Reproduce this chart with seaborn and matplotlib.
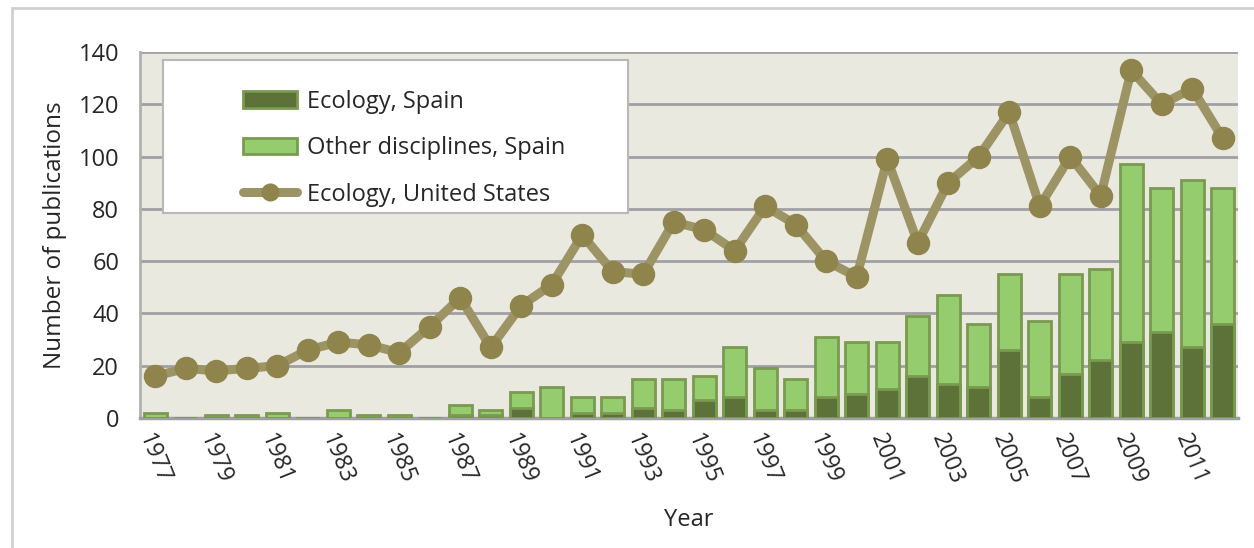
import numpy as np
import pandas as pd
import matplotlib
matplotlib.use("Agg")
import matplotlib.pyplot as plt
import seaborn as sns
from matplotlib.patches import Patch, Rectangle
from matplotlib.lines import Line2D
from matplotlib.ticker import FixedLocator

years = list(range(1977, 2013))
spain_total = [2, 0, 1, 1, 2, 0, 3, 1, 1, 0, 5, 3, 10, 12, 8, 8, 15, 15, 16, 27,
               19, 15, 31, 29, 29, 39, 47, 36, 55, 37, 55, 57, 97, 88, 91, 88]
ecology_spain = [0, 0, 0, 0, 0, 0, 0, 0, 0, 0, 1, 1, 4, 0, 2, 2, 4, 3, 7, 8,
                 3, 3, 8, 9, 11, 16, 13, 12, 26, 8, 17, 22, 29, 33, 27, 36]
ecology_us = [16, 19, 18, 19, 20, 26, 29, 28, 25, 35, 46, 27, 43, 51, 70, 56, 55, 75, 72, 64,
              81, 74, 60, 54, 99, 67, 90, 100, 117, 81, 100, 85, 133, 120, 126, 107]
tick_labels = [str(y) if (y - 1977) % 2 == 0 else "" for y in years]

df = pd.DataFrame({"Year": [str(y) for y in years], "total": spain_total,
                   "eco": ecology_spain, "us": ecology_us})

sns.set_style("white")
plt.rcParams["font.family"] = ["Open Sans", "DejaVu Sans"]

DARK = "#5c7238"
LIGHT = "#95cc6e"
EDGE = "#7a9a50"
LINE = "#9c9464"
MARK = "#8e844c"
BG = "#eae9e0"
GRID = "#a0a0a4"

fig = plt.figure(figsize=(12.54, 5.48), dpi=100)
ax = fig.add_axes([140 / 1254, 1 - 418 / 548, 1098 / 1254, 366 / 548])
ax.set_facecolor(BG)

order = [str(y) for y in years]
sns.barplot(data=df, x="Year", y="total", order=order, color=LIGHT, edgecolor=EDGE,
            linewidth=2, width=0.76, saturation=1, ax=ax, zorder=3)
sns.barplot(data=df, x="Year", y="eco", order=order, color=DARK, edgecolor=EDGE,
            linewidth=2, width=0.76, saturation=1, ax=ax, zorder=3)
sns.pointplot(data=df, x="Year", y="us", order=order, color=LINE, markers="o",
              linewidth=6.5, markersize=12, ax=ax, zorder=5)
for coll in ax.collections:
    coll.set_facecolor(MARK)
    coll.set_edgecolor(MARK)
    coll.set_zorder(6)
for ln in ax.lines:
    ln.set_markerfacecolor(MARK)
    ln.set_markeredgecolor(MARK)

ax.set_ylim(0, 140)
ax.set_xlim(-0.5, len(years) - 0.5)
ax.set_yticks(range(0, 141, 20))
ax.yaxis.grid(True, color=GRID, linewidth=2, zorder=0)
ax.set_axisbelow(True)
for s in ["top", "right"]:
    ax.spines[s].set_visible(False)
ax.spines["left"].set_color("#b0b0b0")
ax.spines["left"].set_linewidth(2)
ax.spines["bottom"].set_color(GRID)
ax.spines["bottom"].set_linewidth(2.5)

ax.set_xticks(range(len(years)))
ax.set_xticklabels(tick_labels, rotation=-68, ha="left", va="top",
                   rotation_mode="anchor", fontsize=16.5)
ax.tick_params(axis="x", which="major", length=0, pad=9)
ax.xaxis.set_minor_locator(FixedLocator(np.arange(-0.5, len(years), 1.0)))
ax.tick_params(axis="x", which="minor", length=7, width=2, color=GRID, direction="out")
ax.tick_params(axis="y", length=8, width=2, color="#b0b0b0", labelsize=17, pad=7)

ax.set_xlabel("Year", fontsize=17, labelpad=14)
ax.set_ylabel("Number of publications", fontsize=17.5, labelpad=8)

# legend box
ax.add_patch(Rectangle((0.021, 0.56), 0.423, 0.418, transform=ax.transAxes,
                       facecolor="white", edgecolor="#b8b8b8", linewidth=1.5, zorder=8))
handles = [Patch(facecolor=DARK, edgecolor=EDGE, linewidth=2),
           Patch(facecolor=LIGHT, edgecolor=EDGE, linewidth=2),
           Line2D([0], [0], color=LINE, linewidth=6.5, marker="o", markersize=12,
                  markerfacecolor=MARK, markeredgecolor=MARK)]
labels = ["Ecology, Spain", "Other disciplines, Spain", "Ecology, United States"]
leg = ax.legend(handles, labels, loc="upper left", bbox_to_anchor=(0.074, 0.955),
                frameon=False, fontsize=17, handlelength=2.3, handleheight=0.7,
                labelspacing=0.95, handletextpad=0.45)
leg.set_zorder(9)

fig.patches.append(Rectangle((12 / 1254, -0.1), 1.2, 1 - 8 / 548 + 0.1,
                             transform=fig.transFigure, fill=False,
                             edgecolor="#d0d0d0", linewidth=2))

fig.savefig("out.png", dpi=100)
